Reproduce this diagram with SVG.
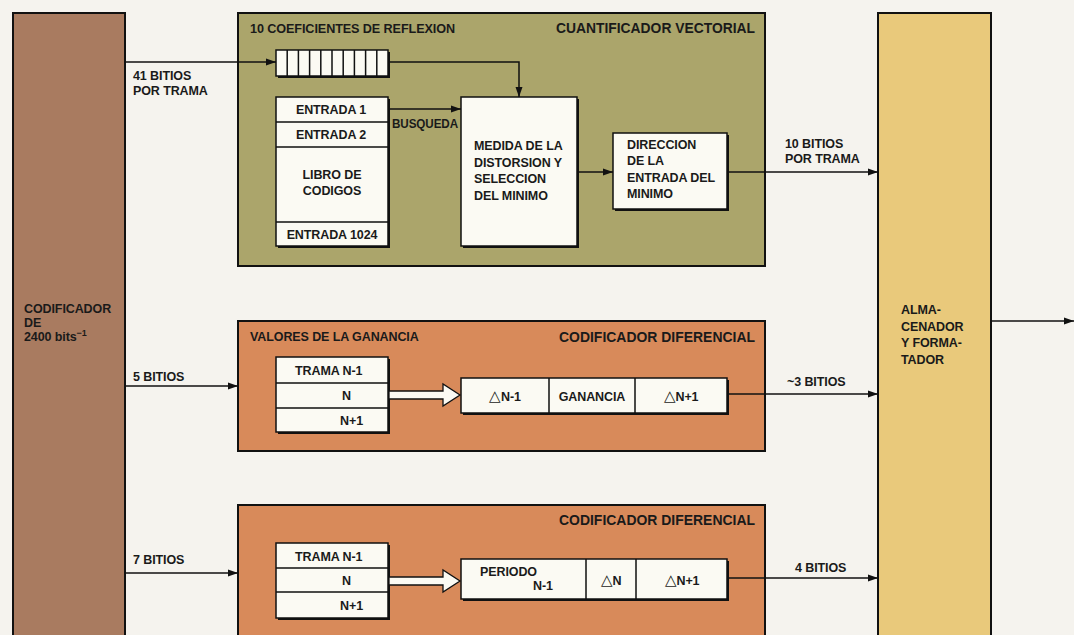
<svg xmlns="http://www.w3.org/2000/svg" width="1074" height="635" viewBox="0 0 1074 635">
<defs>
<marker id="ah" markerWidth="10" markerHeight="8" refX="10" refY="4" orient="auto" markerUnits="userSpaceOnUse">
<path d="M0,0.5 L10,4 L0,7.5 Z" fill="#111"/>
</marker>
<style>
.t{font-family:"Liberation Sans",Arial,sans-serif;font-size:12.5px;font-weight:bold;fill:#1a1a1a;letter-spacing:-0.1px}
.h{font-family:"Liberation Sans",Arial,sans-serif;font-size:14.5px;font-weight:bold;fill:#1a1a1a}
.m{text-anchor:middle}
.e{text-anchor:end}
.d{font-size:15px;font-weight:normal}
.box{stroke:#111;stroke-width:2}
.w{fill:#fbfaf3;stroke:#111;stroke-width:1.5}
.sh{fill:#111}
.ln{stroke:#111;stroke-width:1.5;fill:none}
.cn{stroke:#111;stroke-width:1.5;fill:none;marker-end:url(#ah)}
.hol{fill:#fbfaf3;stroke:#111;stroke-width:1.3}
</style>
</defs>
<rect width="1074" height="635" fill="#f5f3ee"/>

<g id="codificador">
<rect class="box" x="13" y="13" width="112" height="630" fill="#a97b60"/>
<text class="t" x="24" y="313">CODIFICADOR</text>
<text class="t" x="24" y="327">DE</text>
<text class="t" x="24" y="341">2400 bits<tspan dy="-5" font-size="9">−1</tspan></text>
</g>

<g id="almacenador">
<rect class="box" x="878" y="13" width="113" height="630" fill="#e9c97b"/>
<text class="t" x="901" y="314">ALMA-</text>
<text class="t" x="901" y="331">CENADOR</text>
<text class="t" x="901" y="347">Y FORMA-</text>
<text class="t" x="901" y="364">TADOR</text>
</g>

<g id="cuantificador">
<rect class="box" x="238" y="13" width="527" height="253" fill="#aba56b"/>
<text class="t" x="250" y="33" textLength="205" lengthAdjust="spacingAndGlyphs">10 COEFICIENTES DE REFLEXION</text>
<text class="h e" x="755" y="33" textLength="199" lengthAdjust="spacingAndGlyphs">CUANTIFICADOR VECTORIAL</text>
</g>

<g id="registro">
<rect class="sh" x="278" y="52" width="112" height="26"/>
<rect class="w" x="276" y="50" width="112" height="26"/>
<path class="ln" d="M287.2,50V76M298.4,50V76M309.6,50V76M320.8,50V76M332,50V76M343.2,50V76M354.4,50V76M365.6,50V76M376.8,50V76"/>
</g>

<g id="libro">
<rect class="sh" x="278" y="99" width="112" height="149"/>
<rect class="w" x="276" y="97" width="112" height="149"/>
<path class="ln" d="M276,122H388M276,147H388M276,222H388"/>
<text class="t m" x="331" y="114">ENTRADA 1</text>
<text class="t m" x="331" y="139">ENTRADA 2</text>
<text class="t m" x="332" y="179">LIBRO DE</text>
<text class="t m" x="332" y="195">CODIGOS</text>
<text class="t m" x="332" y="239">ENTRADA 1024</text>
</g>

<g id="medida">
<rect class="sh" x="463" y="99" width="116" height="149"/>
<rect class="w" x="461" y="97" width="116" height="149"/>
<text class="t" x="474" y="150">MEDIDA DE LA</text>
<text class="t" x="474" y="167">DISTORSION Y</text>
<text class="t" x="474" y="183">SELECCION</text>
<text class="t" x="474" y="200">DEL MINIMO</text>
</g>

<g id="direccion">
<rect class="sh" x="615" y="135" width="114" height="76"/>
<rect class="w" x="613" y="133" width="114" height="76"/>
<text class="t" x="627" y="149">DIRECCION</text>
<text class="t" x="627" y="165">DE LA</text>
<text class="t" x="627" y="182">ENTRADA DEL</text>
<text class="t" x="627" y="198">MINIMO</text>
</g>

<g id="ganancia">
<rect class="box" x="238" y="321" width="527" height="130" fill="#d88a5a"/>
<text class="t" x="250" y="341">VALORES DE LA GANANCIA</text>
<text class="h e" x="755" y="342" textLength="196" lengthAdjust="spacingAndGlyphs">CODIFICADOR DIFERENCIAL</text>
<rect class="sh" x="278" y="359" width="112" height="75"/>
<rect class="w" x="276" y="357" width="112" height="75"/>
<path class="ln" d="M276,383H388M276,408H388"/>
<text class="t" x="295" y="375">TRAMA N-1</text>
<text class="t" x="342" y="400">N</text>
<text class="t" x="340" y="425">N+1</text>
<rect class="sh" x="463" y="380" width="266" height="35"/>
<rect class="w" x="461" y="378" width="266" height="35"/>
<path class="ln" d="M549,378V413M635,378V413"/>
<text class="t m" x="505" y="401"><tspan class="d">△</tspan>N-1</text>
<text class="t m" x="592" y="401">GANANCIA</text>
<text class="t m" x="681" y="401"><tspan class="d">△</tspan>N+1</text>
</g>

<g id="periodo">
<rect class="box" x="238" y="505" width="527" height="140" fill="#d88a5a"/>
<text class="h e" x="755" y="525" textLength="196" lengthAdjust="spacingAndGlyphs">CODIFICADOR DIFERENCIAL</text>
<rect class="sh" x="278" y="545" width="112" height="75"/>
<rect class="w" x="276" y="543" width="112" height="75"/>
<path class="ln" d="M276,568H388M276,592H388"/>
<text class="t" x="295" y="561">TRAMA N-1</text>
<text class="t" x="342" y="585">N</text>
<text class="t" x="340" y="610">N+1</text>
<rect class="sh" x="463" y="561" width="266" height="40"/>
<rect class="w" x="461" y="559" width="266" height="40"/>
<path class="ln" d="M586,559V599M636,559V599"/>
<text class="t" x="480" y="576">PERIODO</text>
<text class="t" x="533" y="590">N-1</text>
<text class="t m" x="611" y="585"><tspan class="d">△</tspan>N</text>
<text class="t m" x="682" y="585"><tspan class="d">△</tspan>N+1</text>
</g>

<g id="connectors">
<line class="cn" x1="125" y1="62" x2="276" y2="62"/>
<path class="cn" d="M388,62H519V97"/>
<line class="cn" x1="388" y1="109" x2="461" y2="109"/>
<line class="cn" x1="577" y1="172" x2="613" y2="172"/>
<line class="cn" x1="727" y1="172" x2="878" y2="172"/>
<line class="cn" x1="991" y1="321" x2="1074" y2="321"/>
<line class="cn" x1="125" y1="386" x2="238" y2="386"/>
<line class="cn" x1="727" y1="394" x2="878" y2="394"/>
<line class="cn" x1="125" y1="573" x2="238" y2="573"/>
<line class="cn" x1="727" y1="578" x2="878" y2="578"/>
<path class="hol" d="M389,391H443V384L460,395L443,406V399H389Z"/>
<path class="hol" d="M389,577H443V570L460,581L443,592V585H389Z"/>
<text class="t" x="133" y="80">41 BITIOS</text>
<text class="t" x="133" y="95">POR TRAMA</text>
<text class="t" x="392" y="128" textLength="66" lengthAdjust="spacingAndGlyphs">BUSQUEDA</text>
<text class="t" x="785" y="148">10 BITIOS</text>
<text class="t" x="785" y="163">POR TRAMA</text>
<text class="t" x="133" y="381">5 BITIOS</text>
<text class="t" x="787" y="386">~3 BITIOS</text>
<text class="t" x="133" y="564">7 BITIOS</text>
<text class="t" x="795" y="572">4 BITIOS</text>
</g>
</svg>
